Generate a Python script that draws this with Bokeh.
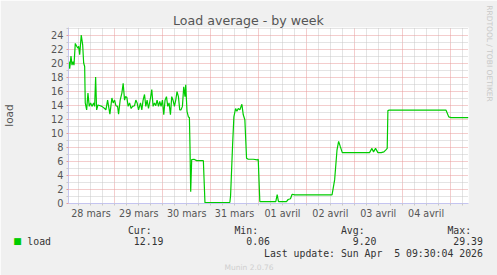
import math
import re
from bokeh.plotting import figure
from bokeh.models import Range1d, FixedTicker, Label
from bokeh.embed import file_html
from bokeh.resources import INLINE

# ---- data (hours since 2026-03-28 00:00, load average) ----
hours = [1.0, 1.35, 2.0, 2.5, 3.0, 3.5, 4.15, 4.85, 5.5, 5.85, 6.35, 7.15, 7.85, 8.35, 8.85,
         9.15, 9.85, 10.5, 11.15, 11.85, 12.5, 13.35, 13.85, 14.35, 14.85, 15.5, 16.65, 17.5,
         18.85, 19.5, 20.35, 20.85, 21.5, 22.5, 23.15, 23.85, 24.5, 25.35, 25.85, 26.65, 27.5,
         28.15, 28.85, 29.35, 30.0, 30.65, 31.35, 32.15, 32.85, 33.85, 34.5, 35.15, 35.85,
         36.85, 37.5, 38.15, 38.85, 39.5, 40.15, 40.85, 41.85, 42.5, 43.15, 43.85, 44.5, 45.15,
         45.85, 46.5, 47.15, 47.85, 48.5, 49.15, 49.85, 50.5, 51.15, 51.85, 52.5, 53.15, 53.85,
         54.5, 55.15, 55.85, 56.5, 57.15, 57.85, 58.5, 59.15, 59.5, 60.15, 60.85, 61.35, 61.65,
         62.0, 62.5, 63.65, 65.0, 68.35, 69.15, 81.65, 82.0, 83.0, 83.65, 84.5, 85.15, 85.85,
         86.65, 87.65, 88.35, 89.15, 90.0, 90.85, 93.35, 95.35, 95.85, 96.65, 104.65, 105.35,
         106.0, 110.0, 110.85, 112.0, 112.85, 114.15, 132.85, 134.15, 135.35, 136.15, 137.0,
         138.0, 151.65, 152.85, 153.65, 154.65, 155.85, 157.5, 158.85, 159.85, 160.5, 160.85,
         161.5, 190.0, 191.35, 192.5, 201.2]
load = [20.2, 19.2, 21.0, 19.7, 20.2, 19.7, 22.8, 22.4, 22.1, 22.4, 21.2, 24.0, 22.6, 20.0, 19.5,
        14.3, 13.3, 15.7, 13.8, 14.3, 13.8, 14.3, 13.8, 18.0, 13.3, 14.0, 13.9, 13.8,
        13.5, 13.3, 14.7, 13.8, 12.7, 15.0, 14.3, 14.7, 13.9, 13.8, 12.7, 14.7, 15.7,
        17.1, 14.7, 15.2, 15.1, 13.8, 14.3, 13.5, 13.8, 13.9, 14.7, 14.3, 13.3,
        14.3, 13.3, 14.7, 15.5, 13.8, 14.7, 13.5, 15.0, 16.2, 13.8, 14.3, 13.9, 14.7,
        13.8, 14.5, 13.8, 14.7, 12.6, 14.7, 15.2, 13.8, 14.3, 12.6, 15.2, 14.7, 13.8,
        14.7, 15.9, 15.2, 13.3, 13.3, 13.8, 16.6, 15.2, 16.9, 13.1, 12.3, 12.2, 8.1,
        1.6, 6.2, 6.25, 6.05, 6.05, 0.05, 0.1, 1.1, 8.3, 12.3, 13.5, 13.1, 13.5,
        13.3, 14.1, 12.6, 11.9, 6.4, 6.25, 6.25, 6.15, 6.25, 0.2, 0.2, 1.2,
        0.2, 0.2, 0.5, 0.6, 1.25, 1.15, 1.15, 3.3, 7.6, 8.8, 8.05,
        7.2, 7.2, 7.8, 7.3, 7.8, 7.2, 7.2, 7.3, 7.6, 7.8, 13.2,
        13.26, 13.26, 12.3, 12.2, 12.19]

day_labels = ["28 mars", "29 mars", "30 mars", "31 mars", "01 avril", "02 avril", "03 avril", "04 avril"]
y_ticks = [0, 2, 4, 6, 8, 10, 12, 14, 16, 18, 20, 22, 24]

series_name = "load"
stat_names = ["Cur:", "Min:", "Avg:", "Max:"]
stat_values = ["12.19", "0.06", "9.20", "29.39"]
last_update = "Last update: Sun Apr  5 09:30:04 2026"
title_text = "Load average - by week"
watermark = "RRDTOOL / TOBI OETIKER"
version_text = "Munin 2.0.76"

# ---- figure ----
FL, FT, FR, FB = 67, 27, 468, 203       # frame edges in canvas px
HX = 0.75                                # half-pixel shift so grid lines fall on pixel centres
HY = 0.5 / 7.0
p = figure(width=497, height=275, output_backend="svg", toolbar_location=None,
           x_range=Range1d(HX, HX + (FR - FL) / 2.0),
           y_range=Range1d(-HY, 25 + HY),
           min_border_left=FL, min_border_right=497 - FR, min_border_top=FT,
           min_border_bottom=275 - FB,
           background_fill_color="white", border_fill_color="#f0f0f0",
           outline_line_color=None)

noons = [12 + 24 * i for i in range(len(day_labels))]
midnights = [24 * i for i in range(1, 9)]
six_h = [6 * i for i in range(1, 34) if (6 * i) % 24 != 0]
y_minor = [v for v in range(1, 26) if v % 2 == 1]

MAJ = "#e89a9a"
MIN = "#c8c8c8"
AX = "#c4c4f0"
TXT = "#555555"
LEG = "#333333"

# title
p.title.text = title_text
p.title.text_font = "DejaVu Sans"
p.title.text_font_size = "12.6px"
p.title.text_font_style = "normal"
p.title.text_color = TXT
p.title.align = "left"
p.title.offset = 104.5
p.title.standoff = 0
p.title.vertical_align = "bottom"

p.xgrid.ticker = FixedTicker(ticks=midnights, minor_ticks=six_h)
p.xgrid.grid_line_color = MAJ
p.xgrid.grid_line_dash = "1 1"
p.xgrid.minor_grid_line_color = MIN
p.xgrid.minor_grid_line_dash = "1 1"

p.ygrid.ticker = FixedTicker(ticks=y_ticks, minor_ticks=y_minor)
p.ygrid.grid_line_color = MAJ
p.ygrid.grid_line_dash = "1 1"
p.ygrid.minor_grid_line_color = MIN
p.ygrid.minor_grid_line_dash = "1 1"

xa = p.xaxis[0]
xa.ticker = FixedTicker(ticks=noons, minor_ticks=six_h + midnights)
xa.major_label_overrides = {float(t): lab for t, lab in zip(noons, day_labels)}
xa.axis_line_color = AX
xa.major_tick_line_color = None
xa.minor_tick_line_color = MIN
xa.minor_tick_out = 2
xa.minor_tick_in = 0
xa.major_tick_out = 2
xa.major_tick_in = 0
xa.major_label_standoff = 2
xa.major_label_text_font = "DejaVu Sans"
xa.major_label_text_font_size = "9.6px"
xa.major_label_text_color = TXT

ya = p.yaxis[0]
ya.ticker = FixedTicker(ticks=y_ticks, minor_ticks=y_minor)
ya.major_label_overrides = {float(t): str(t) for t in y_ticks}
ya.axis_line_color = AX
ya.major_tick_line_color = MAJ
ya.major_tick_out = 2
ya.major_tick_in = 0
ya.minor_tick_line_color = MIN
ya.minor_tick_out = 2
ya.minor_tick_in = 0
ya.major_label_standoff = 3
ya.major_label_text_font = "DejaVu Sans"
ya.major_label_text_font_size = "9.8px"
ya.major_label_text_color = TXT
ya.axis_label = series_name
ya.axis_label_text_font = "DejaVu Sans"
ya.axis_label_text_font_size = "10.5px"
ya.axis_label_text_font_style = "normal"
ya.axis_label_text_color = TXT
ya.axis_label_standoff = 33

p.line(hours, load, line_color="#00cc00", line_width=1.2)


# ---- legend block (monospace, 18-character columns like rrdtool) ----
def keep_spaces(s):
    """Runs of spaces would collapse in SVG: pad them with no-break spaces."""
    s = re.sub(r"^ +", lambda m: "\u00a0" * len(m.group(0)), s)
    return re.sub(r" {2,}", lambda m: "\u00a0" * (len(m.group(0)) - 1) + " ", s)


COLW = 18
row1 = " " * 17 + "".join(n.ljust(COLW) for n in stat_names).rstrip()
row2 = series_name + " " * (23 - len(series_name) - len(stat_values[0])) + stat_values[0]
for v in stat_values[1:]:
    row2 += v.rjust(COLW)
row3 = " " * (77 - len(last_update)) + last_update
legend_text = "\n".join(keep_spaces(r) for r in [row1, row2, row3])

p.add_layout(Label(x=25.8 - FL, y=30.8, x_units="screen", y_units="screen",
                   text=legend_text, text_font="DejaVu Sans Mono", text_font_size="9.83px",
                   text_line_height=1.05, text_color=LEG, text_align="left",
                   text_baseline="top"), "below")
p.add_layout(Label(x=223 - FL, y=-3, x_units="screen", y_units="screen",
                   text=version_text, text_font="DejaVu Sans", text_font_size="7.5px",
                   text_color="#cfcfcf", text_align="left", text_baseline="alphabetic"), "below")

# ---- right side: watermark, then legend colour square ----
p.add_layout(Label(x=488.5 - FR, y=FB - 53, x_units="screen", y_units="screen",
                   text=watermark, text_font="DejaVu Sans", text_font_size="7.5px",
                   text_color="#c8c8c8", text_align="center", text_baseline="middle",
                   angle=-math.pi / 2), "right")
p.add_layout(Label(x=17 - 477, y=FB - 240, x_units="screen", y_units="screen",
                   text="\u25a0", text_font="DejaVu Sans", text_font_size="9px",
                   text_color="#00cc00", text_align="center", text_baseline="middle"), "right")

open("out.html", "w").write(file_html(p, INLINE))
